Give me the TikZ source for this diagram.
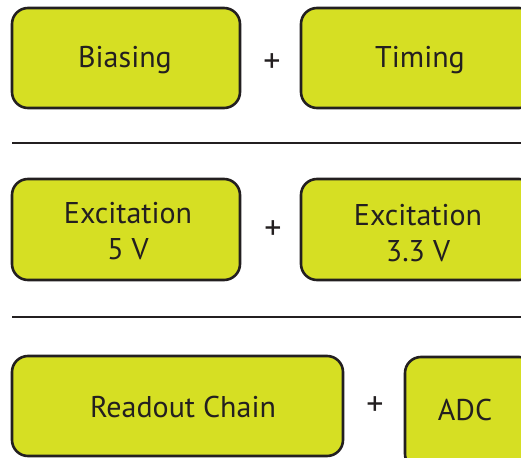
\documentclass[tikz,border=0pt]{standalone}
\usepackage{fontspec}
\setmainfont{PT Sans}
\definecolor{boxfill}{RGB}{214,223,35}
\definecolor{ink}{RGB}{35,31,32}
\begin{document}
\begin{tikzpicture}[x=1pt,y=-1pt,
  blockbox/.style={draw=ink, line width=2.6pt, fill=boxfill, rounded corners=16pt},
  lbl/.style={text=ink, font=\fontsize{30}{36}\selectfont, align=center},
  plus/.style={text=ink, font=\fontsize{34}{36}\selectfont},
  sep/.style={draw=ink, line width=2.4pt}]
\useasboundingbox (0,0) rectangle (521,457);
\begin{scope}
\clip (0,0) rectangle (521,457);
% first row
\draw[blockbox] (12,8) rectangle (240,108);
\draw[blockbox] (301,8) rectangle (535,108);
\node[lbl] (bias) at (125,60) {Biasing};
\node[lbl] (timing) at (420,60) {Timing};
\node[plus] (p1) at (272,63) {+};
% separator
\coordinate (s1a) at (12,143);
\coordinate (s1b) at (521,143);
\draw[sep] (s1a) -- (s1b);
% second row
\draw[blockbox] (12,179) rectangle (240,280);
\draw[blockbox] (301,179) rectangle (535,280);
\node[lbl] (exc5) at (128,231) {Excitation\\5 V};
\node[lbl] (exc33) at (418,233) {Excitation\\3.3 V};
\node[plus] (p2) at (273,230) {+};
% separator
\coordinate (s2a) at (12,317);
\coordinate (s2b) at (521,317);
\draw[sep] (s2a) -- (s2b);
% third row
\draw[blockbox] (12,356) rectangle (343,456);
\draw[blockbox] (405,357) rectangle (535,470);
\node[lbl] (readout) at (183,407) {Readout Chain};
\node[lbl] (adc) at (465,410) {ADC};
\node[plus] (p3) at (375,406) {+};
\end{scope}
\end{tikzpicture}
\end{document}
